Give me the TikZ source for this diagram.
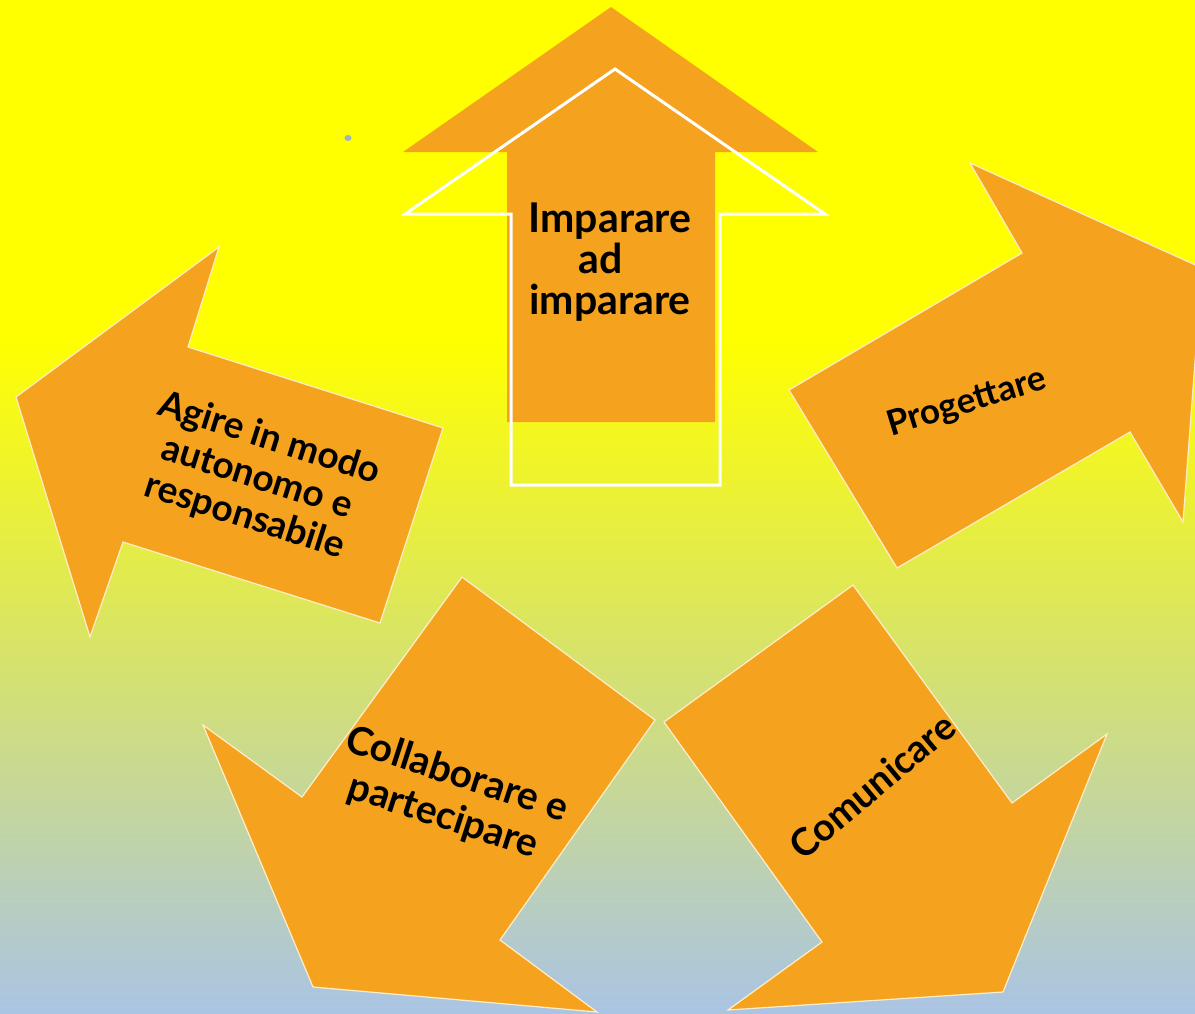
\documentclass[tikz,border=0pt]{standalone}
\usepackage{fontspec}
\setmainfont{Lato}
\definecolor{arrorange}{RGB}{245,162,30}
\definecolor{bgyellow}{RGB}{255,255,0}
\definecolor{bgblue}{RGB}{170,196,228}
\definecolor{bgmid}{RGB}{212,225,114}
\definecolor{edgelight}{RGB}{255,238,200}
\definecolor{dotgrey}{RGB}{160,176,196}
\begin{document}
\begin{tikzpicture}[x=1pt,y=-1pt,
  arrowshape/.style={fill=arrorange,draw=edgelight,line width=1.2pt,line join=miter},
  toparrow/.style={fill=arrorange},
  outlinearrow/.style={draw=white,line width=3pt,line join=miter},
  labeltext/.style={align=center,inner sep=0pt,text=black},
  bigtext/.style={labeltext,font=\bfseries\fontsize{41}{41}\selectfont},
  agiretext/.style={labeltext,font=\bfseries\fontsize{37}{41}\selectfont},
  progtext/.style={labeltext,font=\bfseries\fontsize{35}{41}\selectfont},
  colltext/.style={labeltext,font=\bfseries\fontsize{39}{44}\selectfont},
  comutext/.style={labeltext,font=\bfseries\fontsize{38}{44}\selectfont}]
\useasboundingbox (0,0) rectangle (1195,1013);
\clip (0,0) rectangle (1195,1013);
% background
\fill[bgyellow] (0,0) rectangle (1195,341);
\shade[top color=bgyellow,bottom color=bgblue,middle color=bgmid] (0,340) rectangle (1195,1013);
% stray bullet dot
\fill[dotgrey] (348,138) ellipse [x radius=3.5pt,y radius=3pt];
% top arrow
\fill[toparrow] (611,7) -- (818,152) -- (715,152) -- (715,422) -- (507,422) -- (507,152) -- (403,152) -- cycle;
\draw[outlinearrow] (615,69) -- (825,214) -- (720,214) -- (720,485) -- (511,485) -- (511,214) -- (405,214) -- cycle;
\node[bigtext] (imparare) at (610,262) {Imparare\\ad\rule{18pt}{0pt}\\imparare};
% left arrow
\draw[arrowshape] (16,397) -- (219,247) -- (188,347) -- (443,428) -- (380,623) -- (123,542) -- (90,637) -- cycle;
\node[agiretext,rotate=-17.6] (agire) at (257,478) {Agire in modo\\autonomo e\\responsabile};
% right arrow
\draw[arrowshape] (789,390) -- (1022,253) -- (970,163) -- (1202,268) -- (1183,522) -- (1130,432) -- (897,568) -- cycle;
\node[progtext,rotate=17] (progettare) at (967,403) {Progettare};
% bottom-left arrow
\draw[arrowshape] (462,577) -- (655,720) -- (500,940) -- (597,1012) -- (313,987) -- (203,725) -- (302,797) -- cycle;
\node[colltext,rotate=-18] (collaborare) at (450,796) {Collaborare e\\partecipare};
% bottom-right arrow
\draw[arrowshape] (664,722) -- (853,585) -- (1012,803) -- (1107,734) -- (1003,992) -- (728,1010) -- (822,942) -- cycle;
\node[comutext,rotate=40] (comunicare) at (872,786) {Comunicare};
\end{tikzpicture}
\end{document}
